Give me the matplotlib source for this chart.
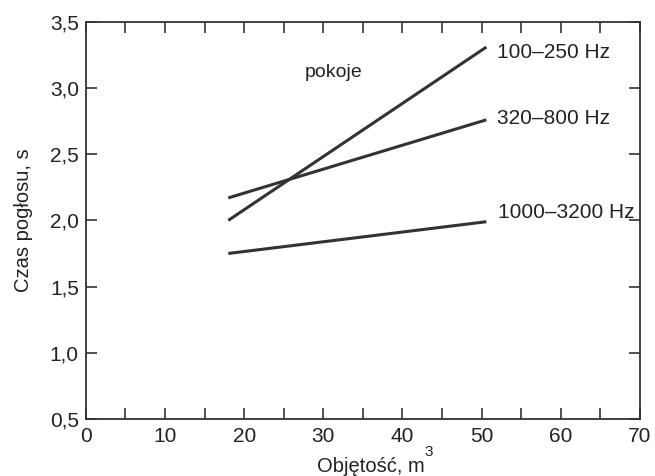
import matplotlib.pyplot as plt
from matplotlib.ticker import FuncFormatter, MultipleLocator

plt.rcParams['font.family'] = ['Liberation Sans', 'DejaVu Sans']

# dane
objetosc = [18, 50.6]
pasma = ['100–250 Hz', '320–800 Hz', '1000–3200 Hz']
czas_100 = [2.0, 3.31]
czas_320 = [2.17, 2.76]
czas_1000 = [1.75, 1.99]

kolor = '#333333'
tekst = '#222222'

fig = plt.figure(figsize=(6.55, 4.76), dpi=100)
ax = fig.add_axes([0.131, 0.120, 0.846, 0.834])

for czas in [czas_100, czas_320, czas_1000]:
  ax.plot(objetosc, czas, color=kolor, linewidth=2.2, solid_capstyle='butt')

ax.text(52, 3.27, pasma[0], fontsize=15, va='center', color=tekst)
ax.text(52, 2.77, pasma[1], fontsize=15, va='center', color=tekst)
ax.text(52.1, 2.06, pasma[2], fontsize=15, va='center', color=tekst)
ax.text(27.7, 3.12, 'pokoje', fontsize=14, va='center', color=tekst)

ax.set_xlim(0, 70)
ax.set_ylim(0.5, 3.5)
ax.xaxis.set_major_locator(MultipleLocator(10))
ax.xaxis.set_minor_locator(MultipleLocator(5))
ax.yaxis.set_major_locator(MultipleLocator(0.5))
ax.yaxis.set_major_formatter(FuncFormatter(lambda v, p: f'{v:.1f}'.replace('.', ',')))

ax.tick_params(which='both', direction='in', top=True, right=True, colors=kolor,
               labelcolor=tekst, labelsize=15, width=1.2, length=8)
ax.tick_params(axis='x', pad=6)
ax.tick_params(axis='y', pad=5)
for s in ax.spines.values():
  s.set_color(kolor)
  s.set_linewidth(1.3)

# podpis osi X z wysoko podniesionym wykładnikiem
fig.text(0.566, 0.008, 'Objętość, m', fontsize=14.5, ha='center', va='baseline', color=tekst)
fig.text(0.648, 0.042, '3', fontsize=11, ha='left', va='baseline', color=tekst)
ax.set_ylabel('Czas pogłosu, s', fontsize=14.5, color=tekst, labelpad=12)

fig.savefig('out.png', dpi=100)
